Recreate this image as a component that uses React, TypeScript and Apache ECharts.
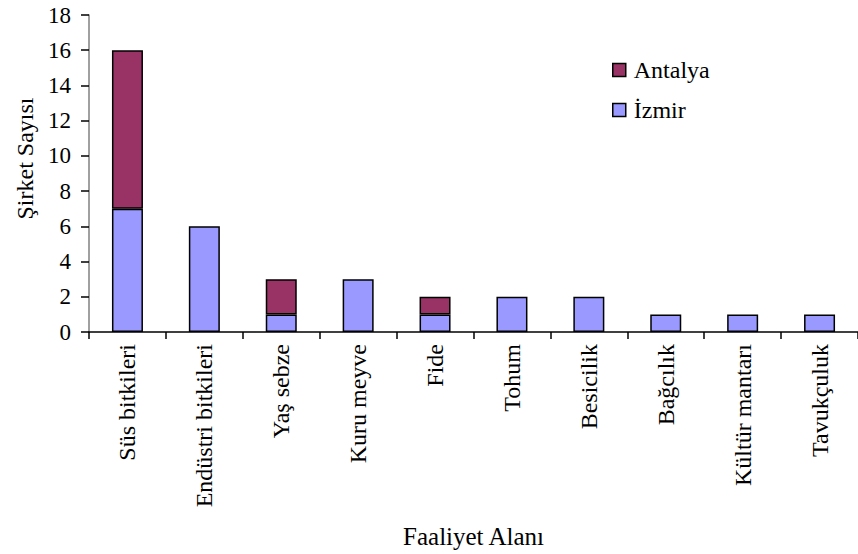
import { useEffect, useRef } from "react";
import * as echarts from "echarts";

const categories = [
  "Süs bitkileri",
  "Endüstri bitkileri",
  "Yaş sebze",
  "Kuru meyve",
  "Fide",
  "Tohum",
  "Besicilik",
  "Bağcılık",
  "Kültür mantarı",
  "Tavukçuluk",
];
const izmirValues = [7, 6, 1, 3, 1, 2, 2, 1, 1, 1];
const antalyaValues = [9, 0, 2, 0, 1, 0, 0, 0, 0, 0];
const seriesNames = ["Antalya", "İzmir"];
const yMin = 0;
const yMax = 18;
const yStep = 2;

const FONT = "'Liberation Serif', 'Times New Roman', serif";

export default function App() {
  const ref = useRef<HTMLDivElement>(null);
  useEffect(() => {
    if (!ref.current) return;
    const chart = echarts.init(ref.current, null, { renderer: "svg" });
    const txt = (size: number) => ({ fontFamily: FONT, fontSize: size, color: "#000", fontWeight: "normal" as const });
    chart.setOption({
      animation: false,
      backgroundColor: "#ffffff",
      textStyle: txt(24),
      grid: { left: 89, top: 15, width: 776, height: 318, containLabel: false },
      legend: {
        data: seriesNames,
        orient: "vertical",
        left: 607,
        top: 53,
        itemWidth: 13,
        itemHeight: 13,
        itemGap: 16,
        icon: "rect",
        textStyle: { ...txt(24), lineHeight: 24, padding: [0, 0, 0, 3] },
        itemStyle: { borderColor: "#000", borderWidth: 1.5 },
      },
      xAxis: {
        type: "category",
        data: categories,
        boundaryGap: true,
        name: "Faaliyet Alanı",
        nameLocation: "middle",
        nameGap: 192,
        nameTextStyle: { ...txt(25), verticalAlign: "top" },
        axisLine: { show: true, lineStyle: { color: "#000", width: 1.5 } },
        axisTick: { show: true, length: 7, lineStyle: { color: "#000", width: 1.5 } },
        axisLabel: { rotate: 90, margin: 12, interval: 0, ...txt(24) },
      },
      yAxis: {
        type: "value",
        min: yMin,
        max: yMax,
        interval: yStep,
        name: "Şirket Sayısı",
        nameLocation: "middle",
        nameGap: 52,
        nameTextStyle: { ...txt(24), padding: [0, 0, 0, 30] },
        splitLine: { show: false },
        axisLine: { show: true, lineStyle: { color: "#808080", width: 1.5 } },
        axisTick: { show: true, length: 8, lineStyle: { color: "#000", width: 1.5 } },
        axisLabel: { margin: 18, ...txt(23) },
      },
      series: [
        {
          name: "İzmir",
          type: "bar",
          stack: "total",
          barWidth: 31,
          data: izmirValues.map((v) => (v === 0 ? "-" : v)),
          itemStyle: { color: "#9999FF", borderColor: "#000", borderWidth: 1.5 },
        },
        {
          name: "Antalya",
          type: "bar",
          stack: "total",
          barWidth: 31,
          data: antalyaValues.map((v) => (v === 0 ? "-" : v)),
          itemStyle: { color: "#993366", borderColor: "#000", borderWidth: 1.5 },
        },
      ],
    });
    return () => chart.dispose();
  }, []);
  return (
    <div
      ref={ref}
      style={{ position: "fixed", left: 0, top: 0, width: 858, height: 554, background: "#fff" }}
    />
  );
}
